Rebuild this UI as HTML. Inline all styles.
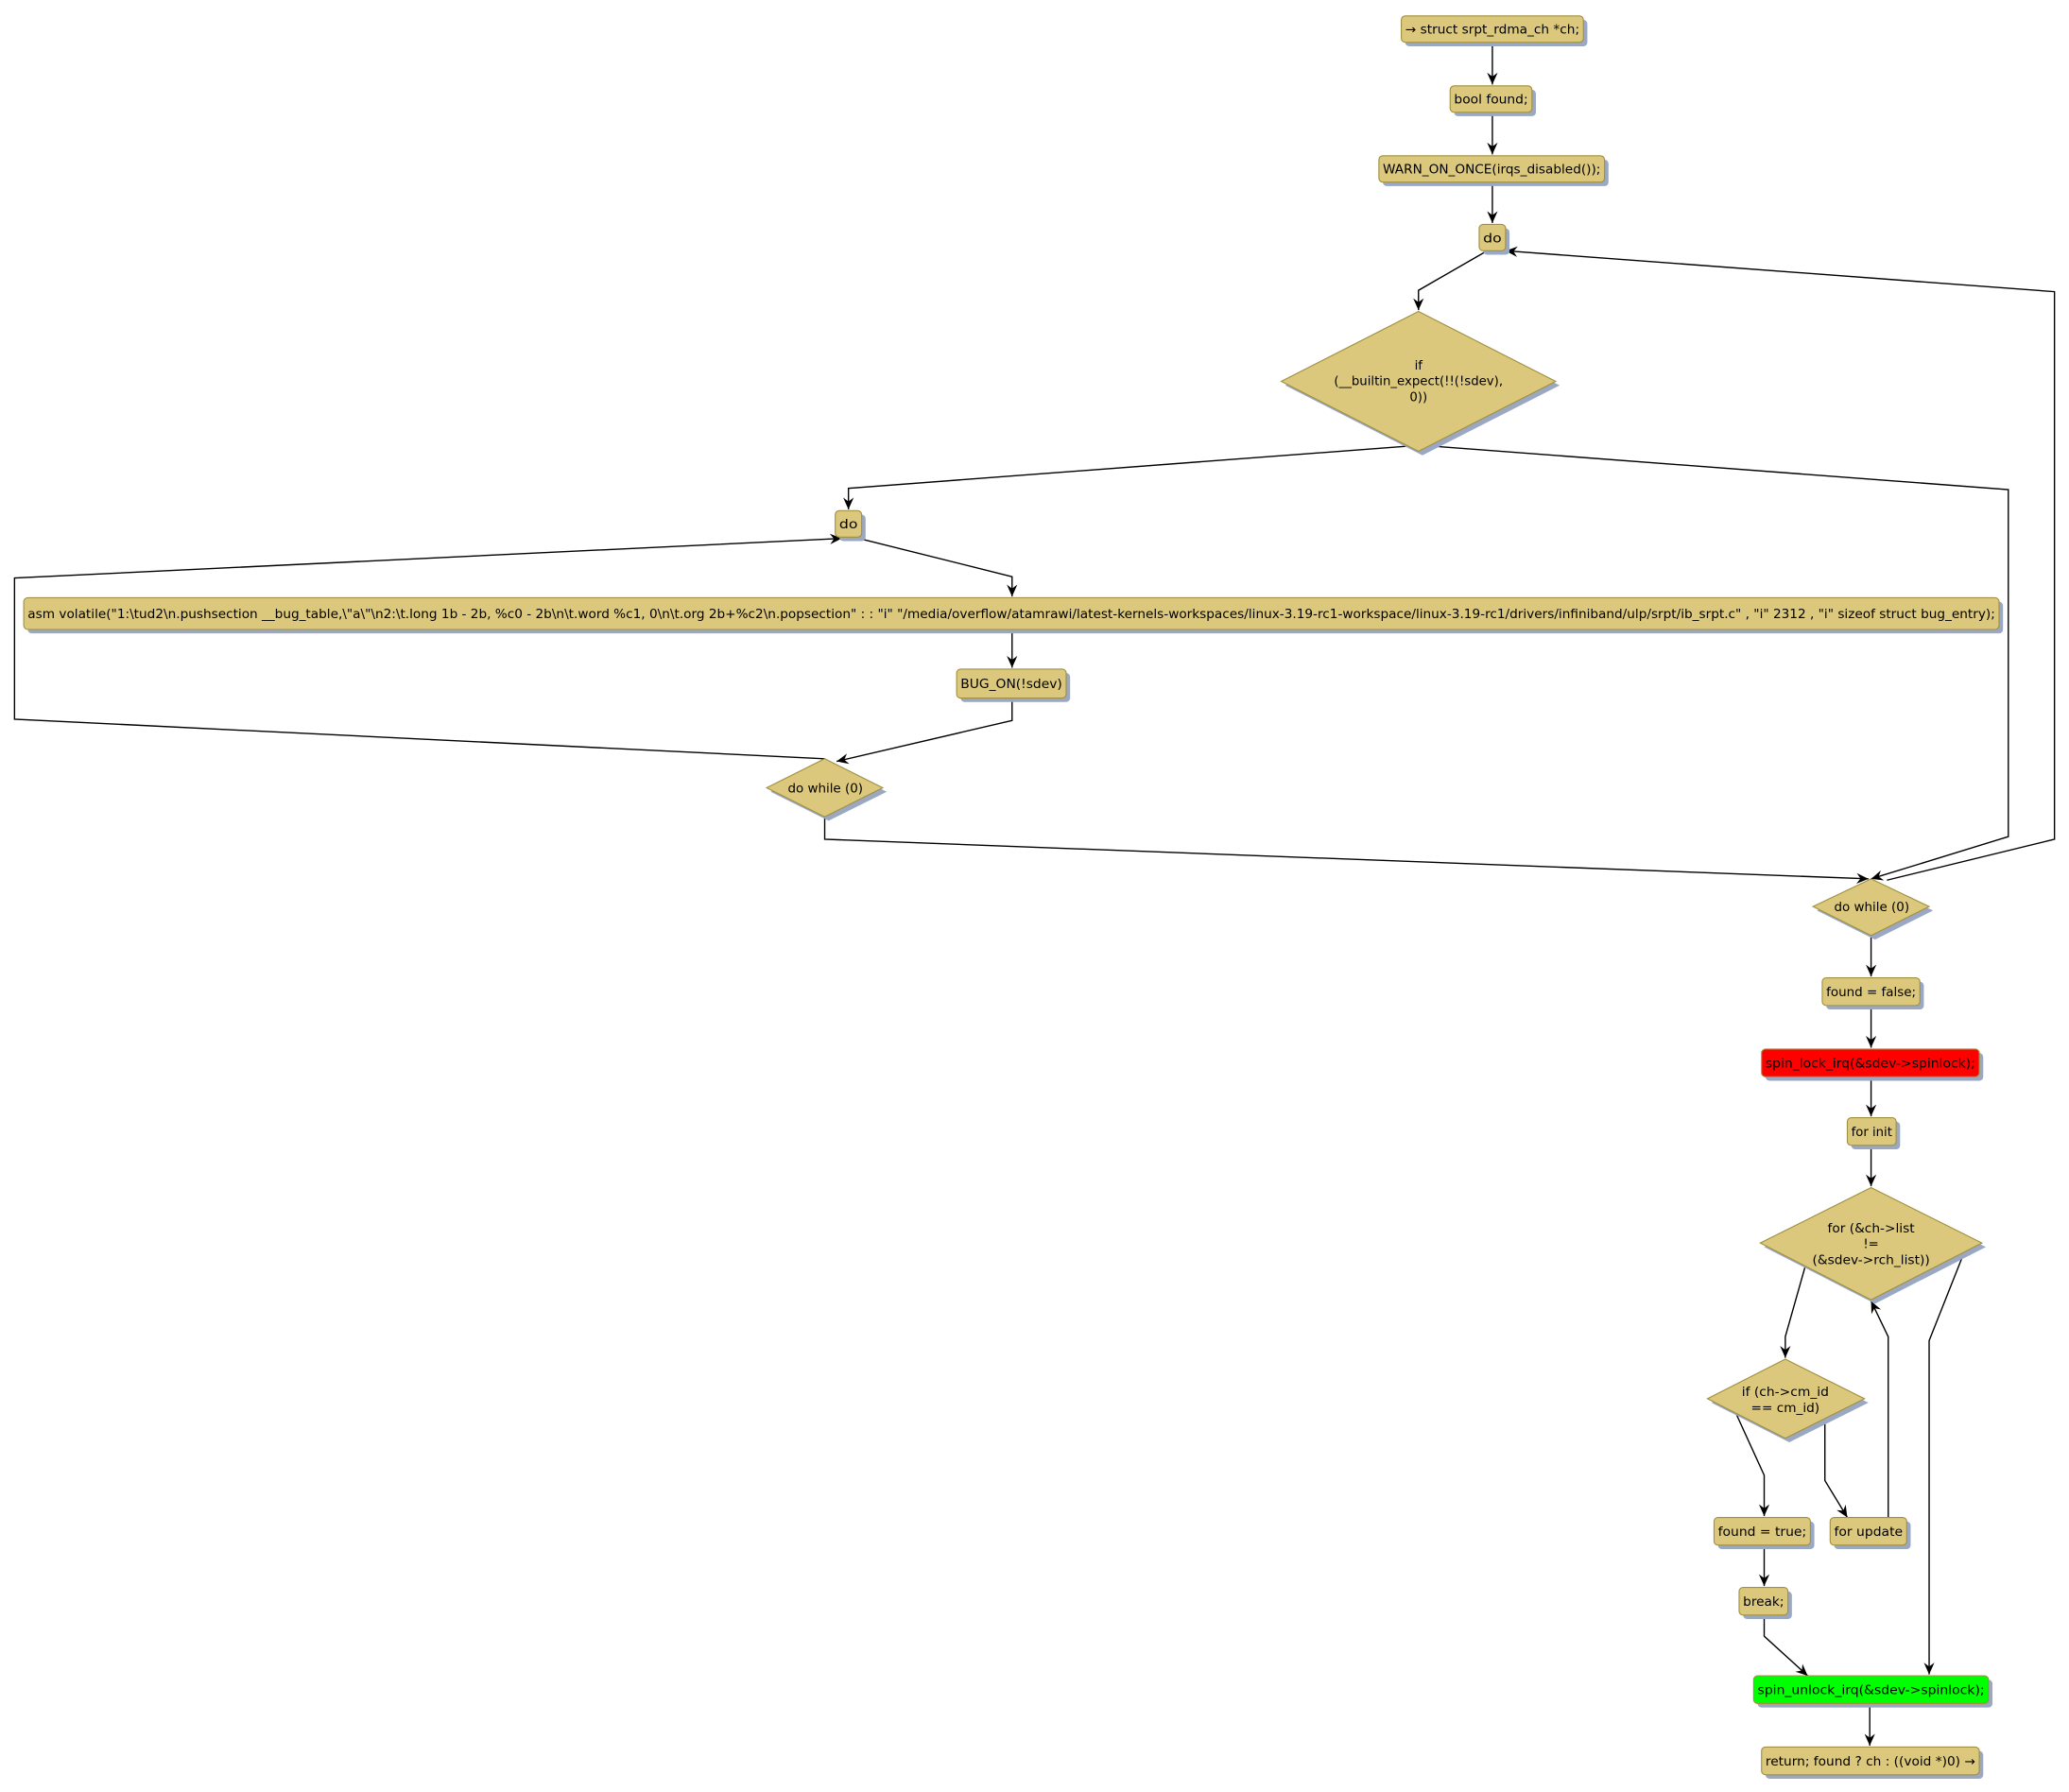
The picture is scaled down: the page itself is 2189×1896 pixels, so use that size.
<!DOCTYPE html>
<html><head><meta charset="utf-8"><style>
html,body{margin:0;padding:0;background:#fff;}
svg{display:block;}
text{font-family:"DejaVu Sans","Liberation Sans",sans-serif;font-size:9.5px;fill:#000;}
</style></head><body>
<svg width="2189" height="1896" viewBox="0 0 1568 1358" xmlns="http://www.w3.org/2000/svg">
<defs>
<marker id="a" markerWidth="10" markerHeight="10" refX="9" refY="5" orient="auto" markerUnits="userSpaceOnUse">
<path d="M0,1 L9,5 L0,9 L3,5 Z" fill="#000"/>
</marker>
</defs>
<g fill="none" stroke="#000" stroke-width="1">
<path d="M1131,32 V64" marker-end="url(#a)"/>
<path d="M1131,85 V117" marker-end="url(#a)"/>
<path d="M1131,138 V169" marker-end="url(#a)"/>
<path d="M1127,190 L1075,220 V235" marker-end="url(#a)"/>
<path d="M1430,667 L1557,636 V221 L1141,190" marker-end="url(#a)"/>
<path d="M1068,338 L643,370 V386" marker-end="url(#a)"/>
<path d="M1085,338 L1522,371 V634 L1418,666" marker-end="url(#a)"/>
<path d="M647,407 L767,437 V452" marker-end="url(#a)"/>
<path d="M767,477 V506" marker-end="url(#a)"/>
<path d="M767,529 V546 L634,577" marker-end="url(#a)"/>
<path d="M625,575 L11,545 V438 L638,408" marker-end="url(#a)"/>
<path d="M625,619 V636 L1416,666" marker-end="url(#a)"/>
<path d="M1418,709 V740" marker-end="url(#a)"/>
<path d="M1418,762 V794" marker-end="url(#a)"/>
<path d="M1418,816 V846" marker-end="url(#a)"/>
<path d="M1418,868 V899" marker-end="url(#a)"/>
<path d="M1368,960 L1353,1013 V1029" marker-end="url(#a)"/>
<path d="M1316,1072 L1337,1118 V1149" marker-end="url(#a)"/>
<path d="M1383,1076 V1122 L1400,1150" marker-end="url(#a)"/>
<path d="M1431,1150 V1013 L1418,986" marker-end="url(#a)"/>
<path d="M1489,948 L1462,1016 V1269" marker-end="url(#a)"/>
<path d="M1337,1171 V1202" marker-end="url(#a)"/>
<path d="M1337,1224 V1240 L1370,1270" marker-end="url(#a)"/>
<path d="M1417,1291 V1323" marker-end="url(#a)"/>
</g>
<!-- shadows -->
<g fill="#9aa8c4">
<rect x="1065" y="15" width="138" height="20" rx="3"/>
<rect x="1102" y="68" width="62" height="20" rx="3"/>
<rect x="1048" y="121" width="171" height="20" rx="3"/>
<rect x="1124" y="173" width="20" height="20" rx="3"/>
<polygon points="1078,239 1182,292 1078,345 974,292"/>
<rect x="636" y="390" width="20" height="20" rx="3"/>
<rect x="21" y="456" width="1497" height="24" rx="3"/>
<rect x="728" y="510" width="83" height="22" rx="3"/>
<polygon points="628,578 672,600 628,622 584,600"/>
<polygon points="1421,669 1465,690 1421,712 1377,690"/>
<rect x="1384" y="744" width="74" height="21" rx="3"/>
<rect x="1338" y="798" width="165" height="21" rx="3"/>
<rect x="1403" y="850" width="37" height="21" rx="3"/>
<polygon points="1421,903 1505,945 1421,988 1337,945"/>
<polygon points="1356,1033 1416,1063 1356,1093 1297,1063"/>
<rect x="1302" y="1153" width="73" height="21" rx="3"/>
<rect x="1390" y="1153" width="58" height="21" rx="3"/>
<rect x="1321" y="1206" width="37" height="21" rx="3"/>
<rect x="1332" y="1273" width="178" height="21" rx="3"/>
<rect x="1338" y="1327" width="165" height="21" rx="3"/>
</g>
<g fill="#dbc87c" stroke="#a0903f" stroke-width="0.8">
<rect x="1062" y="12" width="138" height="20" rx="3"/>
<rect x="1099" y="65" width="62" height="20" rx="3"/>
<rect x="1045" y="118" width="171" height="20" rx="3"/>
<rect x="1121" y="170" width="20" height="20" rx="3"/>
<polygon points="1075,236 1179,289 1075,342 971,289"/>
<rect x="633" y="387" width="20" height="20" rx="3"/>
<rect x="18" y="453" width="1497" height="24" rx="3"/>
<rect x="725" y="507" width="83" height="22" rx="3"/>
<polygon points="625,575 669,597 625,619 581,597"/>
<polygon points="1418,666 1462,687 1418,709 1374,687"/>
<rect x="1381" y="741" width="74" height="21" rx="3"/>
<rect x="1335" y="795" width="165" height="21" rx="3" fill="#ff0000"/>
<rect x="1400" y="847" width="37" height="21" rx="3"/>
<polygon points="1418,900 1502,942 1418,985 1334,942"/>
<polygon points="1353,1030 1413,1060 1353,1090 1294,1060"/>
<rect x="1299" y="1150" width="73" height="21" rx="3"/>
<rect x="1387" y="1150" width="58" height="21" rx="3"/>
<rect x="1318" y="1203" width="37" height="21" rx="3"/>
<rect x="1329" y="1270" width="178" height="21" rx="3" fill="#00ff00"/>
<rect x="1335" y="1324" width="165" height="21" rx="3"/>
</g>
<g>
<text x="1065" y="25.5" textLength="132" lengthAdjust="spacingAndGlyphs">→ struct srpt_rdma_ch *ch;</text>
<text x="1102" y="78.5" textLength="56" lengthAdjust="spacingAndGlyphs">bool found;</text>
<text x="1048" y="131.5" textLength="165" lengthAdjust="spacingAndGlyphs">WARN_ON_ONCE(irqs_disabled());</text>
<text x="1124" y="183.5" textLength="14" lengthAdjust="spacingAndGlyphs">do</text>
<text x="1075" y="280" text-anchor="middle">if</text>
<text x="1011" y="292" textLength="128" lengthAdjust="spacingAndGlyphs">(__builtin_expect(!!(!sdev),</text>
<text x="1075" y="304" text-anchor="middle">0))</text>
<text x="636" y="400.5" textLength="14" lengthAdjust="spacingAndGlyphs">do</text>
<text x="21" y="468.5" textLength="1491" lengthAdjust="spacingAndGlyphs">asm volatile("1:\tud2\n.pushsection __bug_table,\"a\"\n2:\t.long 1b - 2b, %c0 - 2b\n\t.word %c1, 0\n\t.org 2b+%c2\n.popsection" : : "i" "/media/overflow/atamrawi/latest-kernels-workspaces/linux-3.19-rc1-workspace/linux-3.19-rc1/drivers/infiniband/ulp/srpt/ib_srpt.c" , "i" 2312 , "i" sizeof struct bug_entry);</text>
<text x="728" y="521.5" textLength="77" lengthAdjust="spacingAndGlyphs">BUG_ON(!sdev)</text>
<text x="597" y="600.5" textLength="57" lengthAdjust="spacingAndGlyphs">do while (0)</text>
<text x="1390" y="690.5" textLength="57" lengthAdjust="spacingAndGlyphs">do while (0)</text>
<text x="1384" y="755" textLength="68" lengthAdjust="spacingAndGlyphs">found = false;</text>
<text x="1338" y="809" textLength="159" lengthAdjust="spacingAndGlyphs">spin_lock_irq(&amp;sdev-&gt;spinlock);</text>
<text x="1403" y="861" textLength="31" lengthAdjust="spacingAndGlyphs">for init</text>
<text x="1418" y="934" text-anchor="middle" textLength="66" lengthAdjust="spacingAndGlyphs">for (&amp;ch-&gt;list</text>
<text x="1418" y="946" text-anchor="middle">!=</text>
<text x="1418" y="958" text-anchor="middle" textLength="89" lengthAdjust="spacingAndGlyphs">(&amp;sdev-&gt;rch_list))</text>
<text x="1353" y="1058" text-anchor="middle" textLength="66" lengthAdjust="spacingAndGlyphs">if (ch-&gt;cm_id</text>
<text x="1353" y="1070" text-anchor="middle" textLength="52" lengthAdjust="spacingAndGlyphs">== cm_id)</text>
<text x="1302" y="1164" textLength="67" lengthAdjust="spacingAndGlyphs">found = true;</text>
<text x="1390" y="1164" textLength="52" lengthAdjust="spacingAndGlyphs">for update</text>
<text x="1321" y="1217" textLength="31" lengthAdjust="spacingAndGlyphs">break;</text>
<text x="1332" y="1284" textLength="172" lengthAdjust="spacingAndGlyphs">spin_unlock_irq(&amp;sdev-&gt;spinlock);</text>
<text x="1338" y="1338" textLength="159" lengthAdjust="spacingAndGlyphs">return; found ? ch : ((void *)0) →</text>
</g>
</svg>
</body></html>
